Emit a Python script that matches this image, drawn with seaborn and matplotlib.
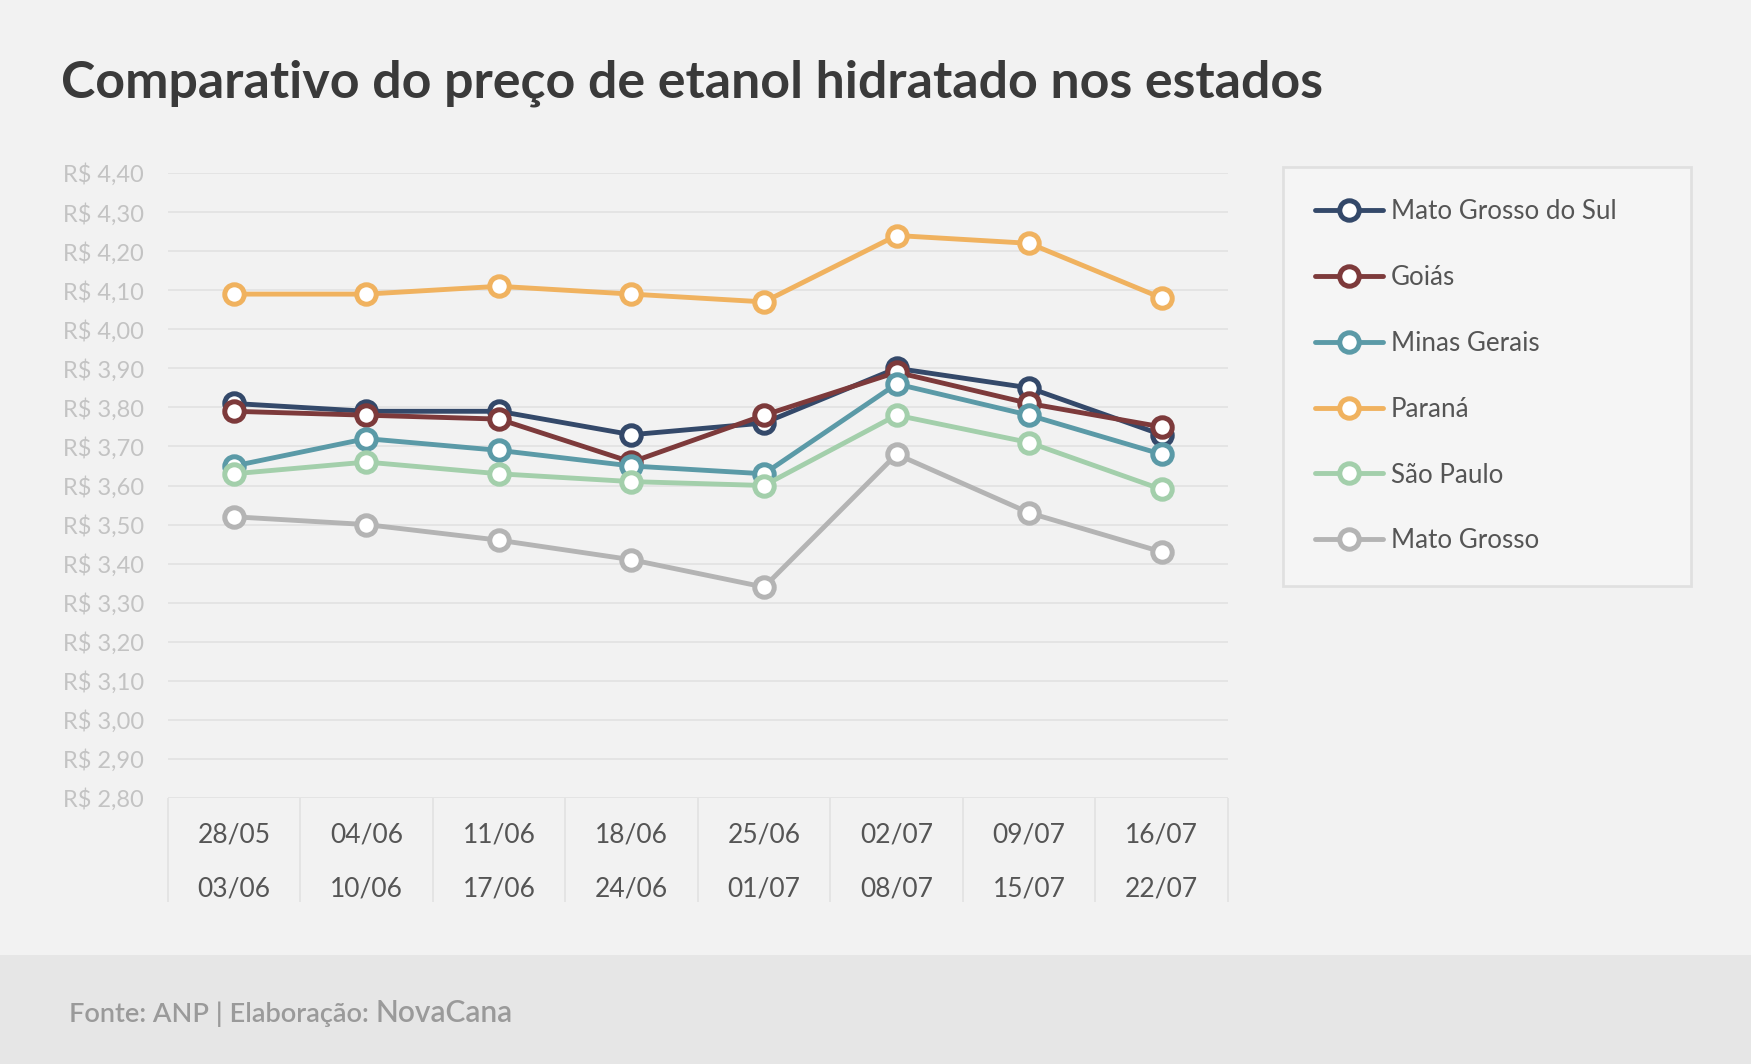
import numpy as np
import pandas as pd
import matplotlib
matplotlib.use("Agg")
import matplotlib.pyplot as plt
import seaborn as sns
from matplotlib.patches import Rectangle

#%% data
periods = ['28/05\n03/06', '04/06\n10/06', '11/06\n17/06', '18/06\n24/06',
           '25/06\n01/07', '02/07\n08/07', '09/07\n15/07', '16/07\n22/07']

states = ['Mato Grosso do Sul', 'Goiás', 'Minas Gerais', 'Paraná', 'São Paulo', 'Mato Grosso']

mato_grosso_sul = [3.81, 3.79, 3.79, 3.73, 3.76, 3.90, 3.85, 3.73]
goias = [3.79, 3.78, 3.77, 3.66, 3.78, 3.89, 3.81, 3.75]
minas_gerais = [3.65, 3.72, 3.69, 3.65, 3.63, 3.86, 3.78, 3.68]
parana = [4.09, 4.09, 4.11, 4.09, 4.07, 4.24, 4.22, 4.08]
sao_paulo = [3.63, 3.66, 3.63, 3.61, 3.60, 3.78, 3.71, 3.59]
mato_grosso = [3.52, 3.50, 3.46, 3.41, 3.34, 3.68, 3.53, 3.43]

colors = ['#34496a', '#7d3a3b', '#5b9aa7', '#f0b25f', '#a3cfab', '#b4b4b4']

yticks = np.round(np.arange(2.80, 4.41, 0.10), 2)

#%% long-form table
series = [mato_grosso_sul, goias, minas_gerais, parana, sao_paulo, mato_grosso]
df = pd.DataFrame({
    'periodo': periods * len(states),
    'estado': np.repeat(states, len(periods)),
    'preco': np.concatenate(series),
})

#%% figure
sns.set_style('white')
plt.rcParams['font.family'] = ['Lato', 'DejaVu Sans']

bg = '#f2f2f2'
fig = plt.figure(figsize=(17.51, 10.64), dpi=100, facecolor=bg)
ax = fig.add_axes([0.0957, 0.25, 0.6056, 0.5874])
ax.set_facecolor(bg)

# footer band
fig.patches.append(Rectangle((0, 0), 1, 0.1024, transform=fig.transFigure,
                             facecolor='#e6e6e6', edgecolor='none', zorder=0))

sns.lineplot(data=df, x='periodo', y='preco', hue='estado', hue_order=states,
             palette=colors, sort=False, ax=ax, linewidth=3.5,
             marker='o', markersize=14, markerfacecolor='white',
             markeredgecolor=None, markeredgewidth=3.6)

# make sure marker rings take the line colour
for ln in ax.get_lines():
    ln.set_markeredgecolor(ln.get_color())

ax.set_xlim(-0.5, len(periods) - 0.5)
ax.set_ylim(2.80, 4.40)
ax.set_yticks(yticks)
ax.set_yticklabels(['R$ {:.2f}'.format(v).replace('.', ',') for v in yticks])
ax.set_xticks(range(len(periods)))
ax.set_xticklabels(periods, linespacing=2.4)
ax.set_xticks(np.arange(-0.5, len(periods), 1), minor=True)

ax.grid(axis='y', color='#e2e2e2', linewidth=1.2)
ax.set_axisbelow(True)
for s in ax.spines.values():
    s.set_visible(False)

ax.tick_params(axis='y', length=0, pad=17, labelsize=17, labelcolor='#c3c3c3')
ax.tick_params(axis='x', which='major', bottom=True, length=0, pad=18,
               labelsize=19, labelcolor='#555555')
ax.tick_params(axis='x', which='minor', bottom=True, length=75, width=1.2,
               color='#e2e2e2', direction='out')
ax.set_xlabel('')
ax.set_ylabel('')

# legend
handles, labels = ax.get_legend_handles_labels()
for h in handles:
    h.set_markeredgecolor(h.get_color())
    h.set_markerfacecolor('white')
leg = ax.legend(handles, labels, loc='upper left',
                bbox_to_anchor=(1283 / 1751, 1 - 167 / 1064, 408 / 1751, 0),
                bbox_transform=fig.transFigure, mode='expand',
                fontsize=18.7, frameon=True, fancybox=False,
                borderpad=1.25, labelspacing=1.57, handlelength=2.6,
                handletextpad=0.3, borderaxespad=0)
leg.get_frame().set_facecolor('#f7f7f7')
leg.get_frame().set_edgecolor('#dcdcdc')
leg.get_frame().set_linewidth(2)
for t in leg.get_texts():
    t.set_color('#555555')

# title
fig.text(0.035, 0.922, 'Comparativo do preço de etanol hidratado nos estados',
         fontsize=37.4, fontweight='bold', color='#3a3a3a', va='center')

# footer text
ft = fig.text(0.0394, 0.0395, 'Fonte: ANP | Elaboração: ', fontsize=19.5,
              fontweight='semibold', color='#9a9a9a', va='baseline')
fig.canvas.draw()
bb = ft.get_window_extent().transformed(fig.transFigure.inverted())
fig.text(bb.x1, 0.0395, 'NovaCana', fontsize=21.5, fontweight='semibold',
         color='#9a9a9a', va='baseline')

fig.savefig('out.png', dpi=100, facecolor=bg)
